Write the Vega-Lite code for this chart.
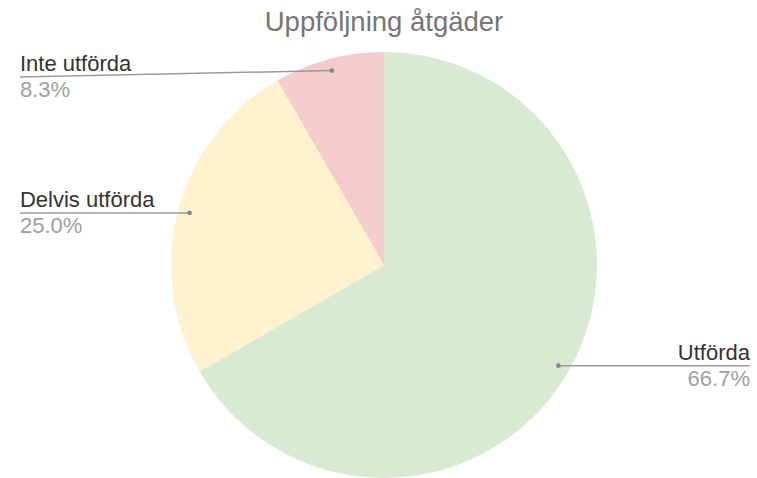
{
  "$schema": "https://vega.github.io/schema/vega-lite/v6.json",
  "width": 746,
  "height": 426,
  "autosize": {"type": "none"},
  "padding": {"left": 11, "top": 52, "right": 0, "bottom": 0},
  "background": "white",
  "config": {"view": {"stroke": null}},
  "title": {
    "text": "Uppföljning åtgäder",
    "fontSize": 27.5,
    "font": "Liberation Sans",
    "fontWeight": "normal",
    "color": "#757575",
    "anchor": "middle",
    "baseline": "alphabetic",
    "offset": 23,
    "dy": 29
  },
  "data": {
    "values": [
      {"status": "Utförda", "antal": 8, "ordning": 1},
      {"status": "Delvis utförda", "antal": 3, "ordning": 2},
      {"status": "Inte utförda", "antal": 1, "ordning": 3}
    ]
  },
  "transform": [
    {"joinaggregate": [{"op": "sum", "field": "antal", "as": "total"}]},
    {"window": [{"op": "sum", "field": "antal", "as": "cum"}], "sort": [{"field": "ordning"}], "frame": [null, 0]},
    {"calculate": "datum.antal / datum.total", "as": "andel"},
    {"calculate": "(datum.cum - datum.antal / 2) / datum.total * 2 * PI", "as": "mid"},
    {"calculate": "0.945 * sin(datum.mid)", "as": "px"},
    {"calculate": "0.945 * cos(datum.mid)", "as": "py"},
    {"calculate": "datum.px < 0 ? -1.709 : 1.718", "as": "lx"},
    {"calculate": "min(datum.py, 0.883)", "as": "ly"}
  ],
  "layer": [
    {
      "mark": {"type": "arc", "outerRadius": 213},
      "encoding": {
        "theta": {"field": "antal", "type": "quantitative", "stack": true},
        "order": {"field": "ordning", "type": "quantitative"},
        "color": {
          "field": "status",
          "type": "nominal",
          "scale": {"domain": ["Utförda", "Delvis utförda", "Inte utförda"], "range": ["#d9ead3", "#fff2cc", "#f4cccc"]},
          "legend": null
        }
      }
    },
    {
      "mark": {"type": "rule", "color": "#9a9a9a", "strokeWidth": 1.5},
      "encoding": {
        "x": {"field": "px", "type": "quantitative", "scale": {"domain": [-1.751, 1.751], "nice": false, "zero": false}, "axis": null},
        "y": {"field": "py", "type": "quantitative", "scale": {"domain": [-1, 1], "nice": false, "zero": false}, "axis": null},
        "x2": {"field": "lx"},
        "y2": {"field": "ly"}
      }
    },
    {
      "mark": {"type": "point", "filled": true, "size": 22, "color": "#888888", "opacity": 1},
      "encoding": {
        "x": {"field": "px", "type": "quantitative", "scale": {"domain": [-1.751, 1.751], "nice": false, "zero": false}, "axis": null},
        "y": {"field": "py", "type": "quantitative", "scale": {"domain": [-1, 1], "nice": false, "zero": false}, "axis": null}
      }
    },
    {
      "transform": [{"filter": "datum.px < 0"}],
      "mark": {"type": "text", "align": "left", "baseline": "alphabetic", "dy": -6, "fontSize": 22, "font": "Liberation Sans", "color": "#333333"},
      "encoding": {
        "x": {"field": "lx", "type": "quantitative", "scale": {"domain": [-1.751, 1.751], "nice": false, "zero": false}, "axis": null},
        "y": {"field": "ly", "type": "quantitative", "scale": {"domain": [-1, 1], "nice": false, "zero": false}, "axis": null},
        "text": {"field": "status"}
      }
    },
    {
      "transform": [{"filter": "datum.px < 0"}],
      "mark": {"type": "text", "align": "left", "baseline": "alphabetic", "dy": 20, "fontSize": 22, "font": "Liberation Sans", "color": "#a0a0a0"},
      "encoding": {
        "x": {"field": "lx", "type": "quantitative", "scale": {"domain": [-1.751, 1.751], "nice": false, "zero": false}, "axis": null},
        "y": {"field": "ly", "type": "quantitative", "scale": {"domain": [-1, 1], "nice": false, "zero": false}, "axis": null},
        "text": {"field": "andel", "type": "quantitative", "format": ".1%"}
      }
    },
    {
      "transform": [{"filter": "datum.px >= 0"}],
      "mark": {"type": "text", "align": "right", "baseline": "alphabetic", "dy": -6, "fontSize": 22, "font": "Liberation Sans", "color": "#333333"},
      "encoding": {
        "x": {"field": "lx", "type": "quantitative", "scale": {"domain": [-1.751, 1.751], "nice": false, "zero": false}, "axis": null},
        "y": {"field": "ly", "type": "quantitative", "scale": {"domain": [-1, 1], "nice": false, "zero": false}, "axis": null},
        "text": {"field": "status"}
      }
    },
    {
      "transform": [{"filter": "datum.px >= 0"}],
      "mark": {"type": "text", "align": "right", "baseline": "alphabetic", "dy": 20, "fontSize": 22, "font": "Liberation Sans", "color": "#a0a0a0"},
      "encoding": {
        "x": {"field": "lx", "type": "quantitative", "scale": {"domain": [-1.751, 1.751], "nice": false, "zero": false}, "axis": null},
        "y": {"field": "ly", "type": "quantitative", "scale": {"domain": [-1, 1], "nice": false, "zero": false}, "axis": null},
        "text": {"field": "andel", "type": "quantitative", "format": ".1%"}
      }
    }
  ]
}
